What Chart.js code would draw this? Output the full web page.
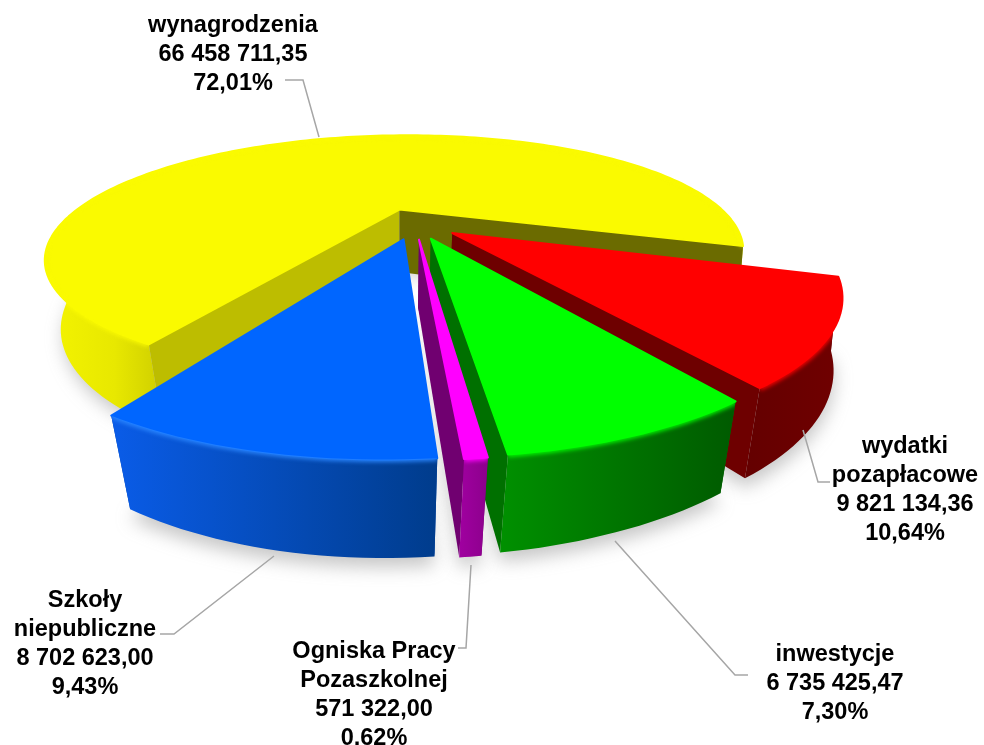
<!DOCTYPE html>
<html><head><meta charset="utf-8">
<style>html,body{margin:0;padding:0;background:#fff}canvas{display:block}</style>
<script src="https://cdn.jsdelivr.net/npm/chart.js@4"></script>
</head><body><canvas id="c" width="984" height="745"></canvas>
<script>
const categories = ["wynagrodzenia","wydatki pozapłacowe","inwestycje","Ogniska Pracy Pozaszkolnej","Szkoły niepubliczne"];
const seriesValues = [66458711.35, 9821134.36, 6735425.47, 571322.00, 8702623.00];
const valueLabels = ["66 458 711,35","9 821 134,36","6 735 425,47","571 322,00","8 702 623,00"];
const percentLabels = ["72,01%","10,64%","7,30%","0,62%","9,43%"];
const nameLines = [["wynagrodzenia"],["wydatki","pozapłacowe"],["inwestycje"],["Ogniska Pracy","Pozaszkolnej"],["Szkoły","niepubliczne"]];
const topColors = ["#fafa00","#ff0000","#00ff00","#ff00ff","#0066ff"];
const faceColors = [["#bdbd00","#6b6b00"],["#6e0000","#6e0000"],["#007000","#007000"],["#700070","#700070"],["#0044aa","#0044aa"]];
const wallStops = [["#ffff00","#c8c800"],["#700000","#640000"],["#009000","#005a00"],["#a000a0","#8c008c"],["#0a5ce8","#003c8c"]];
const rimColors = ["#fafa00","#ff0000","#00ff00","#ff00ff","#2a86ff"];
const drawOrder = [0,1,4,2,3];
const labelAnchors = [[233,26],[905,447],[835,655],[374,652],[85,601]];
const leaders = [[[285,80],[303,80],[319,137]],[[803,430],[818,482],[830,482]],[[615,541],[735,675],[748,675]],[[471,565],[466,648],[458,648]],[[274,556],[174,634],[160,634]]];

const view = {cx:398, cy:210, R:323, S:103, k:0.383, wb:0.04, h:65, sx:0.054, sy:0.123, shear:-12.5, spread:16};
function proj(u,v,bottom){
  const U=u+view.sx, V=v+view.sy;
  const w=1-view.k*V+(bottom?view.wb:0);
  const extra=bottom?view.spread*Math.max(0,U-0.4)/w:0;
  return [view.cx+view.R*U/w+view.shear*V/w+extra, view.cy+(view.S*V+(bottom?view.h:0))/w];
}
function geom(el){
  const r=el.outerRadius, mid=(el.startAngle+el.endAngle)/2, e=(el.options.offset||0)/4/r;
  return {a0:el.startAngle,a1:el.endAngle,ox:Math.cos(mid)*e,oy:Math.sin(mid)*e};
}
function rimPts(g,bottom){
  const n=Math.max(4,Math.ceil((g.a1-g.a0)*40)),p=[];
  for(let i=0;i<=n;i++){const a=g.a0+(g.a1-g.a0)*i/n;p.push(proj(g.ox+Math.cos(a),g.oy+Math.sin(a),bottom));}
  return p;
}
function poly(ctx,pts){ctx.beginPath();pts.forEach((p,i)=>i?ctx.lineTo(p[0],p[1]):ctx.moveTo(p[0],p[1]));ctx.closePath();}

const perspectivePie = {
  id:'perspectivePie',
  beforeDatasetDraw(chart,args){
    const ctx=chart.ctx, arcs=chart.getDatasetMeta(args.index).data;
    const gs=arcs.map(geom);
    // soft floor shadow
    ctx.save();
    ctx.filter='blur(9px)';ctx.fillStyle='rgba(120,120,120,0.42)';
    gs.forEach((g,i)=>{ if(i===0) return;
      const b=rimPts(g,true).map(p=>[p[0],p[1]+9]);
      poly(ctx,[proj(g.ox,g.oy,true),...b]);ctx.fill();
    });
    const by=rimPts(gs[0],true).map(p=>[p[0]+3,p[1]+8]);
    poly(ctx,[proj(gs[0].ox,gs[0].oy,true),...by]);ctx.fill();
    ctx.restore();
    drawOrder.forEach(i=>{
      const g=gs[i], top=rimPts(g,false), bot=rimPts(g,true);
      const ct=proj(g.ox,g.oy,false), cb=proj(g.ox,g.oy,true);
      ctx.save();ctx.lineJoin='round';
      const drawFaces=()=>{
        ctx.fillStyle=faceColors[i][0];
        poly(ctx,[ct,top[0],bot[0],cb]);ctx.fill();
        ctx.fillStyle=faceColors[i][1];
        poly(ctx,[ct,top[top.length-1],bot[bot.length-1],cb]);ctx.fill();
      };
      if(i!==0) drawFaces();
      // outer wall
      const xs=[...top,...bot].map(p=>p[0]);
      const front=[...top,...bot.slice().reverse()];
      const x0=Math.min(...xs),x1=Math.max(...xs);
      const grad=ctx.createLinearGradient(i===4||i===2||i===3?x0:x1,0,i===4||i===2||i===3?x1:x0,0);
      if(i===0){
        // yellow wall is only visible at the left end
        const gy=ctx.createLinearGradient(47,0,160,0);
        gy.addColorStop(0,'#f4f400');gy.addColorStop(0.6,'#e8e800');gy.addColorStop(1,'#d0d000');
        ctx.fillStyle=gy;
      } else {
        grad.addColorStop(0,wallStops[i][0]);grad.addColorStop(1,wallStops[i][1]);
        ctx.fillStyle=grad;
      }
      poly(ctx,front);ctx.fill();
      if(i===0) drawFaces();
      // top surface
      const surface=[ct,...top];
      ctx.fillStyle=topColors[i];
      ctx.strokeStyle=topColors[i];ctx.lineWidth=2;
      poly(ctx,surface);ctx.fill();ctx.stroke();
      // soft rim bevel, kept inside the wall/top silhouette
      ctx.save();
      poly(ctx,[...top,...bot.slice().reverse()]);ctx.clip();
      ctx.filter='blur(2px)';ctx.strokeStyle=rimColors[i];ctx.lineWidth=5;
      ctx.beginPath();top.forEach((p,j)=>j?ctx.lineTo(p[0],p[1]):ctx.moveTo(p[0],p[1]));ctx.stroke();
      ctx.restore();
      ctx.restore();
    });
    return false;
  },
  afterDraw(chart){
    const ctx=chart.ctx;
    ctx.save();
    ctx.strokeStyle='#a6a6a6';ctx.lineWidth=1.5;
    leaders.forEach(l=>{ctx.beginPath();l.forEach((p,i)=>i?ctx.lineTo(p[0],p[1]):ctx.moveTo(p[0],p[1]));ctx.stroke();});
    ctx.fillStyle='#000';ctx.font='bold 23.5px "Liberation Sans", Arial, sans-serif';
    ctx.textAlign='center';ctx.textBaseline='middle';
    categories.forEach((c,i)=>{
      const lines=[...nameLines[i],valueLabels[i],percentLabels[i]];
      lines.forEach((t,j)=>ctx.fillText(t,labelAnchors[i][0],labelAnchors[i][1]+j*28.8));
    });
    ctx.restore();
  }
};
new Chart(document.getElementById('c').getContext('2d'),{
  type:'pie',
  data:{labels:categories,datasets:[{data:seriesValues,backgroundColor:topColors,offset:160,borderWidth:0}]},
  options:{responsive:false,animation:false,rotation:209,
    plugins:{legend:{display:false},tooltip:{enabled:false}},events:[]},
  plugins:[perspectivePie]
});
</script></body></html>
